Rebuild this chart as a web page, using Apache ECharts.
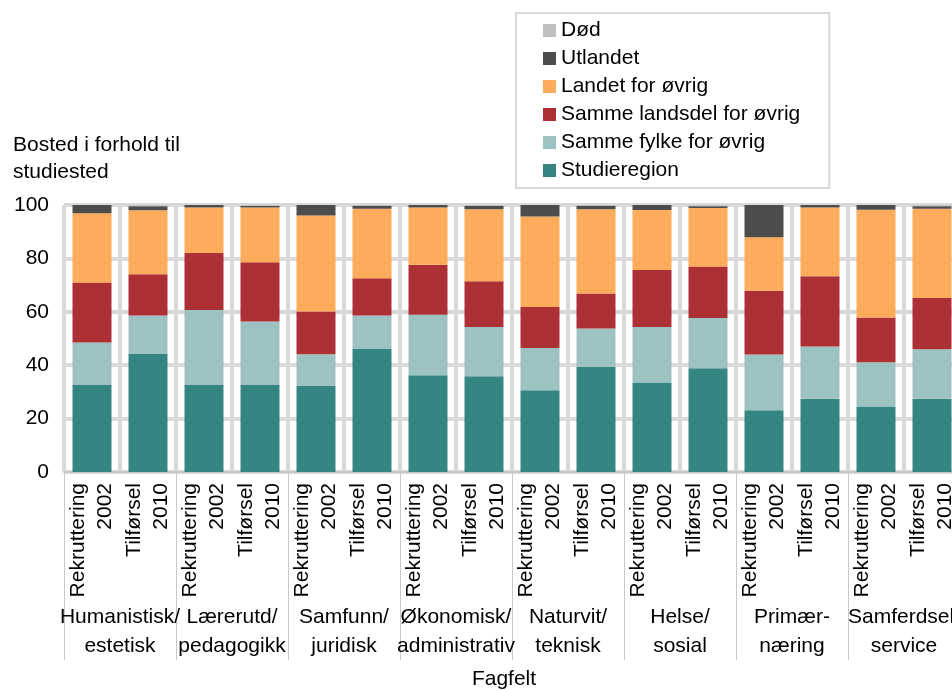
<!DOCTYPE html>
<html>
<head>
<meta charset="utf-8">
<script src="https://cdn.jsdelivr.net/npm/echarts@6/dist/echarts.min.js"></script>
<style>
html,body{margin:0;padding:0;background:#fff;}
#chart{width:952px;height:690px;}
</style>
</head>
<body>
<div id="chart"></div>
<script>
var categories = [
  'Rekruttering\n2002','Tilførsel\n2010','Rekruttering\n2002','Tilførsel\n2010',
  'Rekruttering\n2002','Tilførsel\n2010','Rekruttering\n2002','Tilførsel\n2010',
  'Rekruttering\n2002','Tilførsel\n2010','Rekruttering\n2002','Tilførsel\n2010',
  'Rekruttering\n2002','Tilførsel\n2010','Rekruttering\n2002','Tilførsel\n2010'
];
var groups = [
  'Humanistisk/\nestetisk','Lærerutd/\npedagogikk','Samfunn/\njuridisk','Økonomisk/\nadministrativ',
  'Naturvit/\nteknisk','Helse/\nsosial','Primær-\nnæring','Samferdsel/\nservice'
];
var yTicks = [0, 20, 40, 60, 80, 100];

var studieregion  = [32.6,44.4,32.6,32.6,32.2,46.1,36.2,35.9,30.6,39.4,33.5,38.9,23.1,27.4,24.5,27.4];
var sammeFylke    = [15.9,14.2,28.1,23.8,11.9,12.5,22.7,18.4,15.8,14.3,20.8,18.8,20.9,19.6,16.6,18.6];
var sammeLandsdel = [22.5,15.5,21.3,22.2,16.0,14.0,18.7,17.1,15.4,13.2,21.4,19.3,23.9,26.3,16.8,19.2];
var landet        = [25.9,23.9,17.1,20.5,36.0,26.0,21.5,27.0,33.9,31.5,22.4,21.9,20.0,25.8,40.3,33.4];
var utlandet      = [3.1,1.5,0.9,0.5,3.9,1.1,0.9,1.2,4.3,1.3,1.9,0.6,12.1,0.9,1.8,0.9];
var dod           = [0,0.5,0,0.4,0,0.3,0,0.4,0,0.3,0,0.5,0,0,0,0.5];

var seriesNames = ['Studieregion','Samme fylke for øvrig','Samme landsdel for øvrig','Landet for øvrig','Utlandet','Død'];
var seriesData = [studieregion, sammeFylke, sammeLandsdel, landet, utlandet, dod];
var colors = ['#358583','#9cc2c1','#ad3134','#ffab5c','#4d4d4d','#bfbfbf'];

var FONT = 'Liberation Sans, Arial, sans-serif';
var FS = 21;

var chart = echarts.init(document.getElementById('chart'), null, {renderer:'canvas'});
var option = {
  animation: false,
  textStyle: {fontFamily: FONT},
  title: {
    text: 'Bosted i forhold til\nstudiested',
    left: 8, top: 127,
    textStyle: {fontFamily: FONT, fontSize: FS, fontWeight: 'normal', color: '#000', lineHeight: 27}
  },
  legend: {
    orient: 'vertical',
    left: 516, top: 13,
    padding: [7, 29, 7, 27],
    borderColor: '#d9d9d9', borderWidth: 2,
    itemWidth: 13, itemHeight: 13, itemGap: 7,
    icon: 'rect',
    data: ['Død','Utlandet','Landet for øvrig','Samme landsdel for øvrig','Samme fylke for øvrig','Studieregion'],
    textStyle: {fontFamily: FONT, fontSize: FS, color: '#000', lineHeight: 21}
  },
  grid: {left: 64, top: 205, width: 896, height: 267, containLabel: false, outerBoundsMode: 'none'},
  yAxis: {
    type: 'value', min: yTicks[0], max: yTicks[yTicks.length-1], interval: 20,
    axisLine: {show: false}, axisTick: {show: false},
    axisLabel: {fontFamily: FONT, fontSize: FS, color: '#000', margin: 15},
    splitLine: {lineStyle: {color: '#d9d9d9', width: 4}}
  },
  xAxis: [
    {
      type: 'category', data: categories, position: 'bottom',
      axisLine: {lineStyle: {color: '#c8c8c8', width: 2}},
      axisTick: {show: false},
      axisLabel: {interval: 0, rotate: 90, fontFamily: FONT, fontSize: FS, color: '#000', margin: 11, lineHeight: 27},
      splitLine: {show: true, interval: 0, lineStyle: {color: '#d9d9d9', width: 4}}
    },
    {
      type: 'category', data: groups, position: 'bottom',
      axisLine: {show: false},
      axisTick: {show: true, interval: 0, length: 188, lineStyle: {color: '#c8c8c8', width: 1}},
      axisLabel: {interval: 0, fontFamily: FONT, fontSize: FS, color: '#000', margin: 131, lineHeight: 29},
      splitLine: {show: false},
      name: 'Fagfelt', nameLocation: 'middle', nameGap: 197,
      nameTextStyle: {fontFamily: FONT, fontSize: FS, color: '#000', padding: [0, 16, 0, 0]}
    }
  ],
  series: seriesNames.map(function(n, i){
    return {
      name: n, type: 'bar', stack: 'total', xAxisIndex: 0,
      barWidth: 39,
      itemStyle: {color: colors[i]},
      data: seriesData[i]
    };
  })
};
chart.setOption(option);
</script>
</body>
</html>
